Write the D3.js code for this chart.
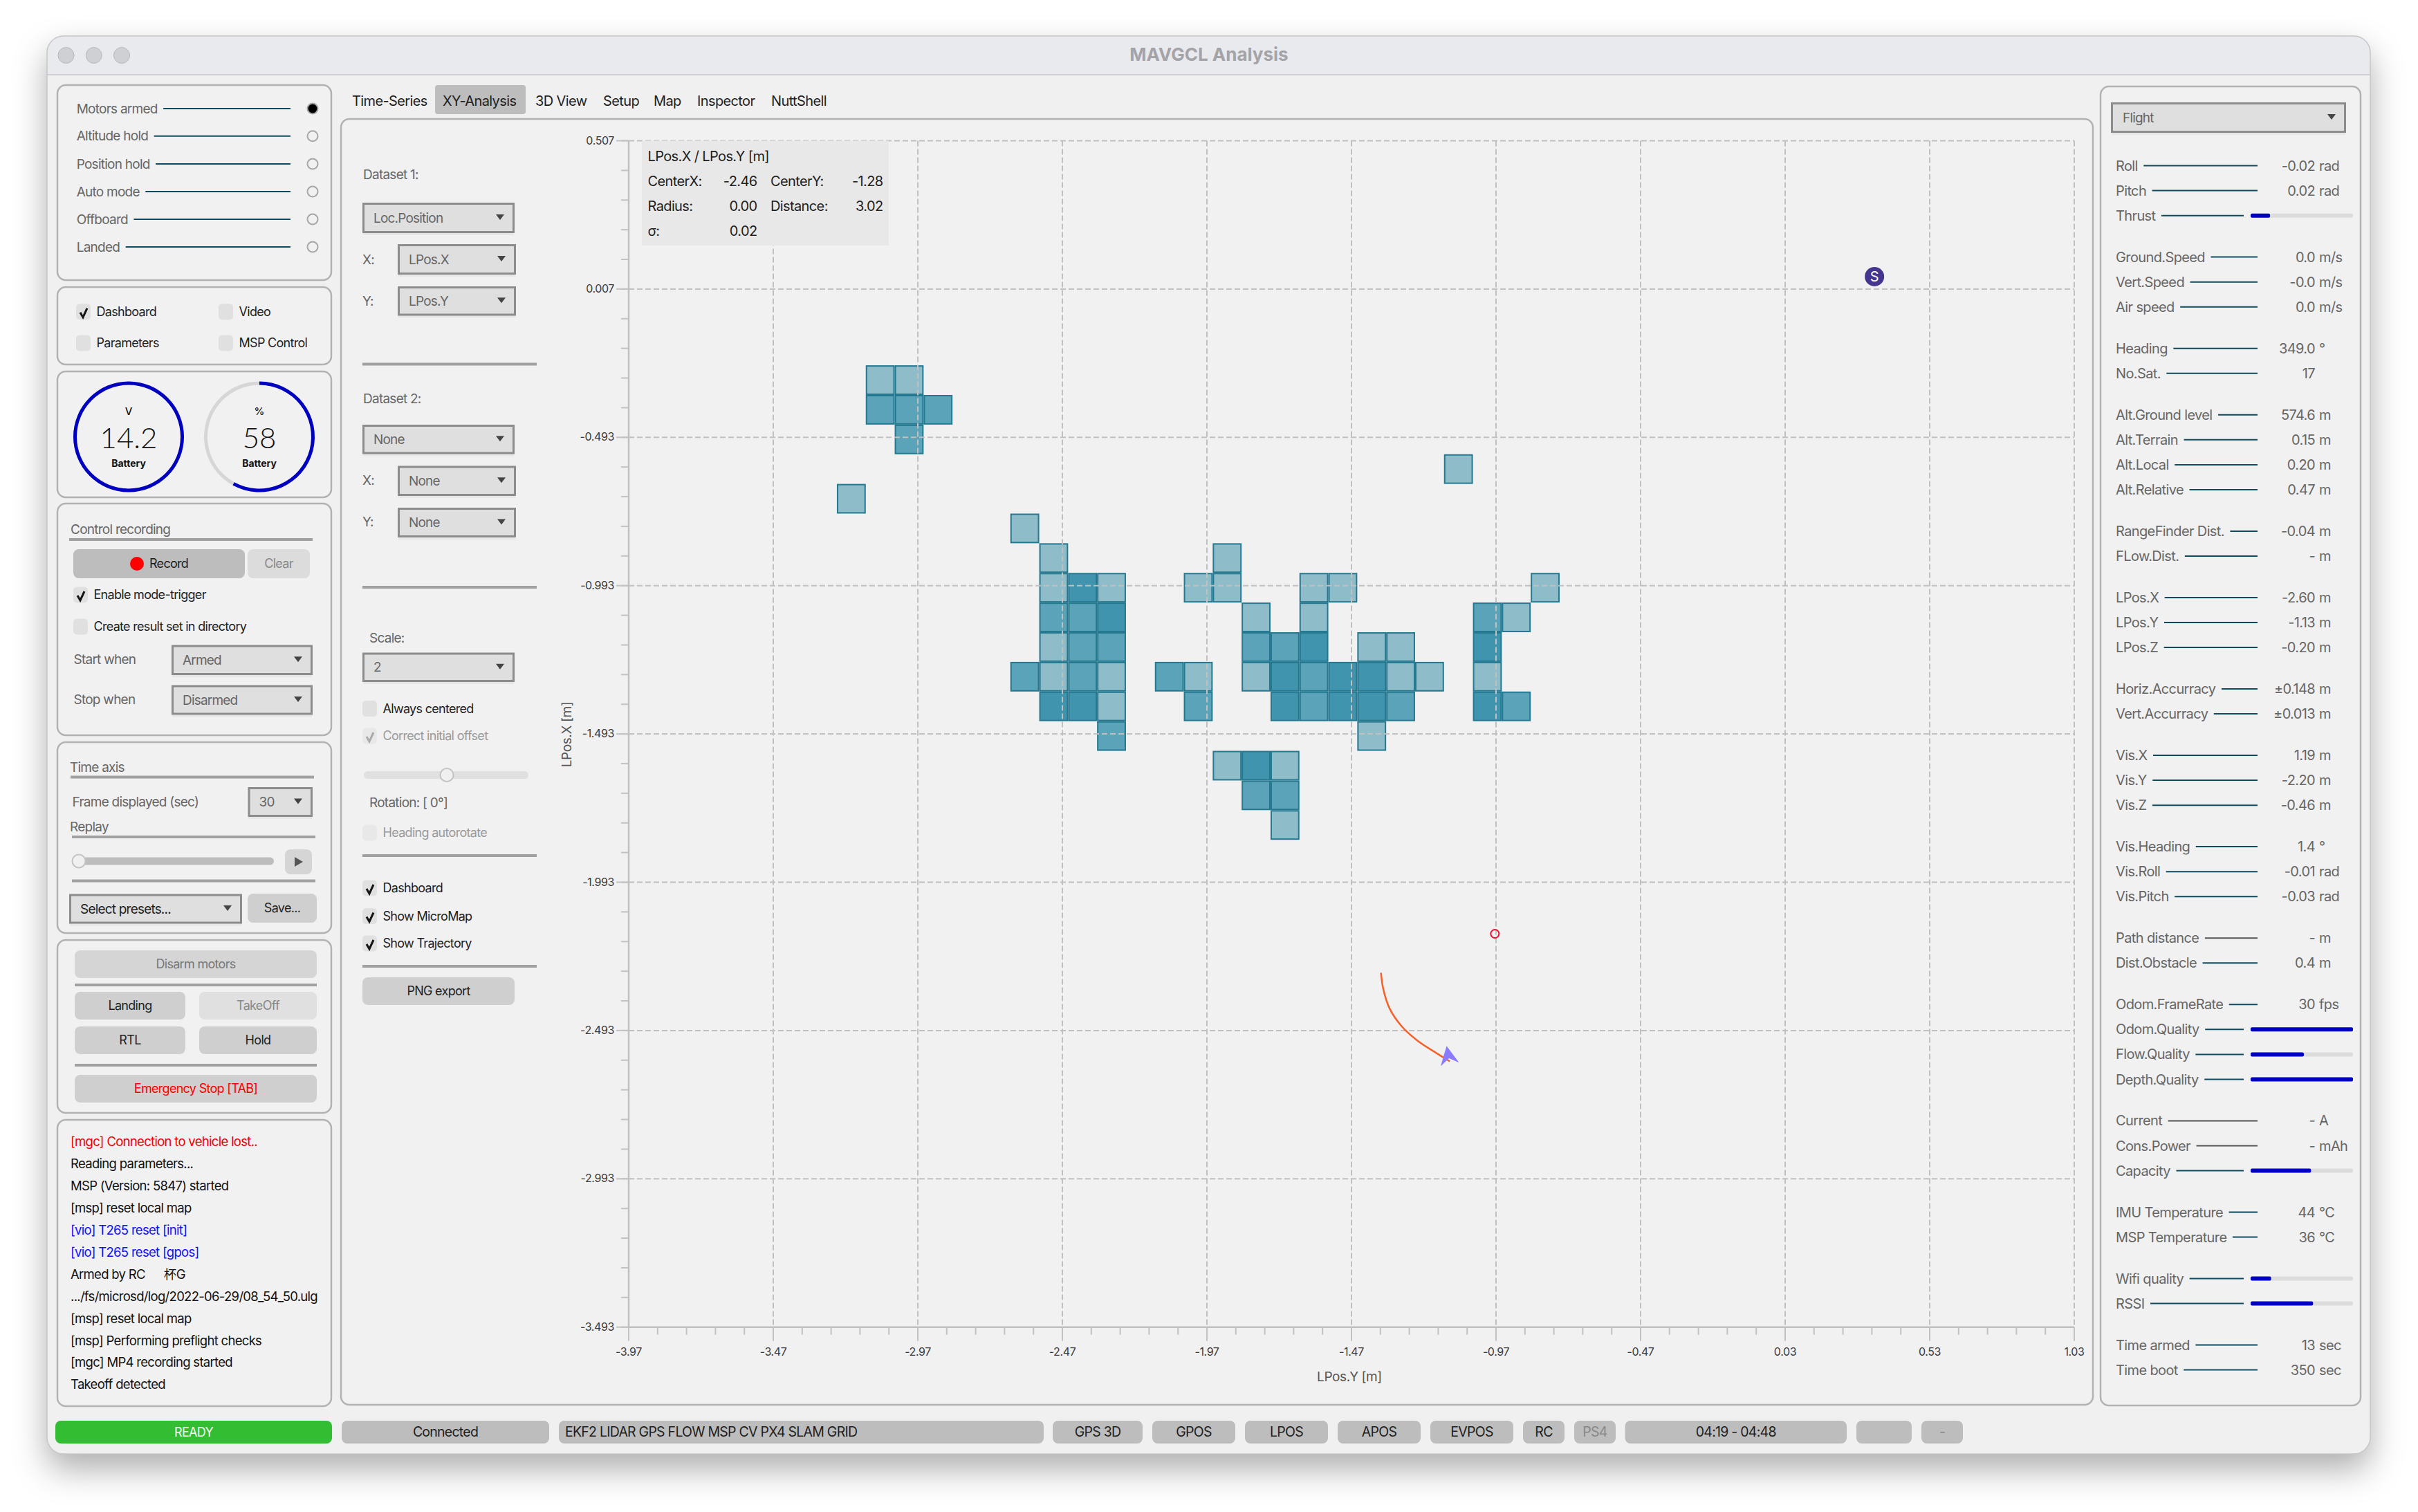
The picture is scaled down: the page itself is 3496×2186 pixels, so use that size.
<!DOCTYPE html>
<html>
<head>
<meta charset="utf-8" />
<script src="https://cdn.jsdelivr.net/npm/d3@7"></script>
<style>
  body { margin: 0; background: #fff; }
  text { font-family: Inter, "Noto Sans CJK SC", sans-serif; white-space: pre; }
</style>
</head>
<body>
<div id="master"></div>
<script>
// --- chart values
var xTicks = [-3.97, -3.47, -2.97, -2.47, -1.97, -1.47, -0.97, -0.47, 0.03, 0.53, 1.03];
var yTicks = [0.507, 0.007, -0.493, -0.993, -1.493, -1.993, -2.493, -2.993, -3.493];

// occupancy cells: LPos.Y centre, LPos.X centre, level
var cellX = [-3.1, -3.0, -3.1, -3.0, -2.9, -3.0, -3.2, -1.1,
  -2.6,
  -2.5, -1.9,
  -2.5, -2.4, -2.3, -2.0, -1.9, -1.6, -1.5, -0.8,
  -2.5, -2.4, -2.3, -1.8, -1.6, -1.0, -0.9,
  -2.5, -2.4, -2.3, -1.8, -1.7, -1.6, -1.4, -1.3, -1.0,
  -2.6, -2.5, -2.4, -2.3, -2.1, -2.0, -1.8, -1.7, -1.6, -1.5, -1.4, -1.3, -1.2, -1.0,
  -2.5, -2.4, -2.3, -2.0, -1.7, -1.6, -1.5, -1.4, -1.3, -1.0, -0.9,
  -2.3, -1.4,
  -1.9, -1.8, -1.7,
  -1.8, -1.7,
  -1.7];
var cellY = [-0.3, -0.3, -0.4, -0.4, -0.4, -0.5, -0.7, -0.6,
  -0.8,
  -0.9, -0.9,
  -1.0, -1.0, -1.0, -1.0, -1.0, -1.0, -1.0, -1.0,
  -1.1, -1.1, -1.1, -1.1, -1.1, -1.1, -1.1,
  -1.2, -1.2, -1.2, -1.2, -1.2, -1.2, -1.2, -1.2, -1.2,
  -1.3, -1.3, -1.3, -1.3, -1.3, -1.3, -1.3, -1.3, -1.3, -1.3, -1.3, -1.3, -1.3, -1.3,
  -1.4, -1.4, -1.4, -1.4, -1.4, -1.4, -1.4, -1.4, -1.4, -1.4, -1.4,
  -1.5, -1.5,
  -1.6, -1.6, -1.6,
  -1.7, -1.7,
  -1.8];
var cellLevel = [1, 1, 2, 2, 2, 2, 1, 1,
  1,
  1, 1,
  1, 3, 1, 1, 1, 1, 1, 1,
  2, 2, 3, 1, 1, 2, 1,
  1, 2, 2, 2, 2, 3, 1, 1, 3,
  2, 1, 2, 1, 2, 1, 1, 3, 2, 3, 3, 1, 1, 1,
  3, 3, 1, 2, 3, 2, 3, 3, 2, 3, 2,
  2, 1,
  1, 3, 1,
  2, 2,
  1];

// trajectory
var trackX = [-1.368, -1.360, -1.338, -1.297, -1.242, -1.173, -1.130];
var trackY = [-2.298, -2.353, -2.419, -2.478, -2.527, -2.571, -2.597];
var vehicle = [-1.13, -2.60, 349];
var target = [-0.974, -2.167];
var homeMark = [0.339, 0.049];

// info box
var infoTitle = "LPos.X / LPos.Y [m]";
var infoLeft = [["CenterX:", "-2.46"], ["Radius:", "0.00"], ["\u03c3:", "0.02"]];
var infoRight = [["CenterY:", "-1.28"], ["Distance:", "3.02"]];

// side panels
var modeLabels = ["Motors armed", "Altitude hold", "Position hold", "Auto mode", "Offboard", "Landed"];
var modeOn = [1, 0, 0, 0, 0, 0];
var tabs = ["Time-Series", "XY-Analysis", "3D View", "Setup", "Map", "Inspector", "NuttShell"];
var messages = ["[mgc] Connection to vehicle lost..", "Reading parameters...", "MSP (Version: 5847) started",
  "[msp] reset local map", "[vio] T265 reset [init]", "[vio] T265 reset [gpos]", "Armed by RC      \u676fG",
  ".../fs/microsd/log/2022-06-29/08_54_50.ulg", "[msp] reset local map", "[msp] Performing preflight checks",
  "[mgc] MP4 recording started", "Takeoff detected"];
var messageKinds = [2, 0, 0, 0, 1, 1, 0, 0, 0, 0, 0, 0];

var rowLabels = ["Roll", "Pitch", "Thrust", "Ground.Speed", "Vert.Speed", "Air speed", "Heading", "No.Sat.",
  "Alt.Ground level", "Alt.Terrain", "Alt.Local", "Alt.Relative", "RangeFinder Dist.", "FLow.Dist.",
  "LPos.X", "LPos.Y", "LPos.Z", "Horiz.Accurracy", "Vert.Accurracy", "Vis.X", "Vis.Y", "Vis.Z",
  "Vis.Heading", "Vis.Roll", "Vis.Pitch", "Path distance", "Dist.Obstacle", "Odom.FrameRate", "Odom.Quality",
  "Flow.Quality", "Depth.Quality", "Current", "Cons.Power", "Capacity", "IMU Temperature", "MSP Temperature",
  "Wifi quality", "RSSI", "Time armed", "Time boot"];
var rowValues = ["-0.02", "0.02", null, "0.0", "-0.0", "0.0", "349.0", "17",
  "574.6", "0.15", "0.20", "0.47", "-0.04", "-",
  "-2.60", "-1.13", "-0.20", "\u00b10.148", "\u00b10.013", "1.19", "-2.20", "-0.46",
  "1.4", "-0.01", "-0.03", "-", "0.4", "30", null,
  null, null, "-", "-", null, "44", "36",
  null, null, "13", "350"];
var rowUnits = ["rad", "rad", "", "m/s", "m/s", "m/s", "\u00b0", "",
  "m", "m", "m", "m", "m", "m",
  "m", "m", "m", "m", "m", "m", "m", "m",
  "\u00b0", "rad", "rad", "m", "m", "fps", "",
  "", "", "A", "mAh", "", "\u00b0C", "\u00b0C",
  "", "", "sec", "sec"];
var rowBars = {"Thrust": 0.19, "Odom.Quality": 1, "Flow.Quality": 0.52, "Depth.Quality": 1, "Capacity": 0.59, "Wifi quality": 0.2, "RSSI": 0.61};
var groupSizes = [3, 3, 2, 4, 2, 3, 2, 3, 3, 2, 4, 3, 2, 2, 2];
var mutedRows = ["Path distance", "Current", "Cons.Power"];

var statusLabels = ["Connected", "EKF2 LIDAR GPS FLOW MSP CV PX4 SLAM GRID", "GPS 3D", "GPOS", "LPOS", "APOS", "EVPOS", "RC", "PS4", "04:19 - 04:48", "", "-"];
var batteryVolts = "14.2", batteryPct = 58;

// --- page
var width = 3496, height = 2186;
var svg = d3.select("#master").append("svg")
  .attr("width", width)
  .attr("height", height)
  .style("display", "block");

var defs = svg.append("defs");
var shadow = defs.append("filter").attr("id", "winshadow")
  .attr("x", "-5%").attr("y", "-5%").attr("width", "110%").attr("height", "112%");
shadow.append("feDropShadow").attr("dx", 0).attr("dy", 22).attr("stdDeviation", 24)
  .attr("flood-color", "#000").attr("flood-opacity", 0.32);

var TXT = "#1e1e1e", MUTED = "#666", LINE = "#0f4a5c";
// the left column is set tighter than the tabs and right panel
var SIDE = {fill: MUTED, size: 19, ls: -0.75};
var SMALL = {size: 18, ls: -0.7};

function label(g, x, y, str, o) {
  o = o || {};
  return g.append("text")
    .attr("x", x).attr("y", y).attr("dy", "0.35em")
    .attr("text-anchor", o.anchor || "start")
    .attr("font-size", o.size || 20)
    .attr("font-weight", o.weight || 400)
    .attr("letter-spacing", o.ls === undefined ? -0.62 : o.ls)
    .attr("fill", o.fill || TXT)
    .text(str);
}
function box(g, x0, y0, x1, y1, fill, r, stroke, sw) {
  return g.append("rect")
    .attr("x", x0).attr("y", y0).attr("width", x1 - x0).attr("height", y1 - y0)
    .attr("rx", r || 0).attr("fill", fill)
    .attr("stroke", stroke || "none").attr("stroke-width", sw || 0);
}
function panel(g, x0, y0, x1, y1) {
  box(g, x0, y0, x1, y1, "#f1f1f1", 12, "#b2b2b2", 2.5);
}
function divider(g, x0, x1, y) {
  box(g, x0, y - 2, x1, y + 2, "#a0a0a0");
}
function arrowDown(g, cx, cy, fill) {
  g.append("path").attr("d", "M" + (cx - 6) + " " + (cy - 4) + "h12l-6 8z").attr("fill", fill || "#444");
}
function combo(g, x0, y0, x1, y1, str, arrowX, fill, textX) {
  box(g, x0 + 1, y1, x1 - 1, y1 + 3, "#e6e6e6");
  box(g, x0 + 1.5, y0 + 1.5, x1 - 1.5, y1 - 1.5, "#dfdfdf", 0, "#8c8c8c", 3);
  label(g, textX === undefined ? x0 + 16 : textX, (y0 + y1) / 2, str, {fill: fill || MUTED, size: 19, ls: -0.8});
  arrowDown(g, arrowX, (y0 + y1) / 2 - 1);
}
function button(g, x0, y0, x1, y1, str, fill, color) {
  box(g, x0, y0, x1, y1, fill, 8);
  label(g, (x0 + x1) / 2, (y0 + y1) / 2, str, {anchor: "middle", fill: color || TXT, size: SMALL.size, ls: SMALL.ls});
}
function check(g, x, y, str, on, off) {
  box(g, x, y - 11.5, x + 21, y + 11.5, off ? "#e8e8e8" : "#e0e0e0", 5);
  if (on) {
    g.append("path")
      .attr("d", "M" + (x + 6) + " " + (y + 1) + "l4 7 l6 -13")
      .attr("fill", "none").attr("stroke", off ? "#aaa" : "#151515").attr("stroke-width", 3);
  }
  label(g, x + 29.5, y, str, {fill: off ? "#9a9a9a" : TXT, size: SMALL.size, ls: SMALL.ls});
}
function slider(g, x0, x1, y, thumbX, fill) {
  box(g, x0, y - 5.5, x1, y + 5.5, fill, 5.5);
  g.append("circle").attr("cx", thumbX).attr("cy", y).attr("r", 9.5)
    .attr("fill", "#f0f0f0").attr("stroke", "#c4c4c4").attr("stroke-width", 2);
}
function leader(g, node, xEnd, y, color) {
  var box2 = node.node();
  g.append("line")
    .attr("x1", +box2.getAttribute("x") + box2.getComputedTextLength() + 8.5).attr("x2", xEnd)
    .attr("y1", y).attr("y2", y)
    .attr("stroke", color || LINE).attr("stroke-width", 2);
}

// --- window
var win = svg.append("g");
win.append("rect").attr("x", 68).attr("y", 52).attr("width", 3359).attr("height", 2050)
  .attr("rx", 24).attr("fill", "#f0f0f0").attr("filter", "url(#winshadow)");
win.append("path")
  .attr("d", "M68 108V76a24 24 0 0 1 24 -24H3403a24 24 0 0 1 24 24V108Z").attr("fill", "#e9eaee");
win.append("line").attr("x1", 68).attr("x2", 3427).attr("y1", 108).attr("y2", 108).attr("stroke", "#d0d0d2").attr("stroke-width", 2);
win.append("rect").attr("x", 68).attr("y", 52).attr("width", 3359).attr("height", 2050)
  .attr("rx", 24).attr("fill", "none").attr("stroke", "#c6c6c8").attr("stroke-width", 1.5);
[95.5, 135.7, 176].forEach(function(cx) {
  win.append("circle").attr("cx", cx).attr("cy", 80).attr("r", 11.5)
    .attr("fill", "#ced0d4").attr("stroke", "#b8b8bc").attr("stroke-width", 1);
});
label(win, 1748, 79, "MAVGCL Analysis", {anchor: "middle", size: 26, weight: 700, fill: "#a3a3a8", ls: 0});

// --- left column
var left = svg.append("g");
panel(left, 83, 123, 479, 405);
[157, 196.7, 237, 277, 317, 357].forEach(function(y, i) {
  var t = label(left, 110.7, y, modeLabels[i], SIDE);
  leader(left, t, 420, y);
  left.append("circle").attr("cx", 452).attr("cy", y).attr("r", 7.5)
    .attr("fill", modeOn[i] ? "#000" : "#f1f1f1")
    .attr("stroke", "#a6a6a6").attr("stroke-width", 2);
});

panel(left, 83, 415, 479, 527);
check(left, 110, 450.7, "Dashboard", true);
check(left, 316, 450.7, "Video", false);
check(left, 110, 496, "Parameters", false);
check(left, 316, 496, "MSP Control", false);

panel(left, 83, 537, 479, 719);
function gauge(cx, cy, frac, unit, value) {
  var arc = d3.arc().innerRadius(75).outerRadius(80).startAngle(0);
  left.append("path").attr("transform", "translate(" + cx + "," + cy + ")")
    .attr("d", arc({endAngle: 2 * Math.PI})).attr("fill", "#d6d6d6");
  left.append("path").attr("transform", "translate(" + cx + "," + cy + ")")
    .attr("d", arc({endAngle: 2 * Math.PI * frac})).attr("fill", "#0000c0");
  label(left, cx, cy - 37, unit, {anchor: "middle", size: 15, ls: 0, fill: "#111", weight: 500});
  left.append("text").attr("x", cx).attr("y", cy + 2).attr("dy", "0.35em")
    .attr("text-anchor", "middle").attr("font-size", 42).attr("font-weight", 300).attr("fill", "#111")
    .style("font-family", "Lato").text(value);
  label(left, cx, cy + 39, "Battery", {anchor: "middle", size: 14, ls: 0, weight: 700, fill: "#111"});
}
gauge(186, 631.5, 1, "V", batteryVolts);
gauge(375, 631.5, batteryPct / 100, "%", batteryPct);

panel(left, 83, 728, 479, 1063);
label(left, 102, 765, "Control recording", SIDE);
divider(left, 100, 452, 780);
box(left, 106, 794, 354, 836, "#bdbdbd", 8);
left.append("circle").attr("cx", 198).attr("cy", 815).attr("r", 10).attr("fill", "#f00");
label(left, 216, 815, "Record", SMALL);
button(left, 358, 794, 448, 836, "Clear", "#dcdcdc", "#888");
check(left, 106, 860, "Enable mode-trigger", true);
check(left, 106, 906, "Create result set in directory", false);
label(left, 106.5, 953, "Start when", SIDE);
combo(left, 248, 932.5, 452, 976, "Armed", 431);
label(left, 106.5, 1011.5, "Stop when", SIDE);
combo(left, 248, 990.5, 452, 1033.5, "Disarmed", 431);

panel(left, 83, 1073, 479, 1349);
label(left, 101, 1109, "Time axis", SIDE);
divider(left, 102, 454, 1123.5);
label(left, 104.5, 1159, "Frame displayed (sec)", SIDE);
combo(left, 358.5, 1138, 452, 1181, "30", 431);
label(left, 101, 1195, "Replay", SIDE);
divider(left, 104, 456, 1210);
slider(left, 107, 396, 1245, 114, "#bdbdbd");
box(left, 412, 1228, 451, 1264, "#d5d5d5", 8);
left.append("path").attr("d", "M426 1239l12 7l-12 7z").attr("fill", "#555");
divider(left, 104, 456, 1273.5);
combo(left, 100, 1292.5, 350, 1335.5, "Select presets...", 329, TXT);
button(left, 358, 1292, 458, 1334, "Save...", "#cfcfcf");

panel(left, 83, 1359, 479, 1609);
button(left, 108, 1374, 458, 1414, "Disarm motors", "#d5d5d5", "#777");
divider(left, 108, 458, 1424);
button(left, 108, 1434, 268, 1474, "Landing", "#cfcfcf");
button(left, 288, 1434, 458, 1474, "TakeOff", "#e0e0e0", "#888");
button(left, 108, 1484, 268, 1524, "RTL", "#cfcfcf");
button(left, 288, 1484, 458, 1524, "Hold", "#cfcfcf");
divider(left, 108, 458, 1540);
button(left, 108, 1554, 458, 1594, "Emergency Stop [TAB]", "#cfcfcf", "#f00");

panel(left, 83, 1619, 479, 2033);
messages.forEach(function(m, i) {
  label(left, 102, 1651 + i * 31.9, m, {fill: ["#111", "#1010ff", "#f00000"][messageKinds[i]], size: 18.5, ls: -0.7});
});

// --- tabs
var tabX = [509, 640, 774, 872, 945, 1008, 1115];
box(svg, 629, 123, 760, 165, "#bdbdbd", 4);
tabs.forEach(function(t, i) {
  label(svg, tabX[i], 146, t);
});

// --- main panel and its controls
var main = svg.append("g");
panel(main, 493, 172, 3026, 2031);
label(main, 525, 252.5, "Dataset 1:", SIDE);
combo(main, 524, 293, 744, 337, "Loc.Position", 723);
label(main, 524, 375, "X:", SIDE);
combo(main, 575, 353, 746, 397, "LPos.X", 725);
label(main, 524, 435, "Y:", SIDE);
combo(main, 575, 414, 746, 456.5, "LPos.Y", 725);
divider(main, 524, 776, 526.5);
label(main, 525, 576, "Dataset 2:", SIDE);
combo(main, 524, 614, 744, 656.5, "None", 723);
label(main, 524, 694, "X:", SIDE);
combo(main, 575, 673.5, 746, 717, "None", 725);
label(main, 524, 754, "Y:", SIDE);
combo(main, 575, 734, 746, 777, "None", 725);
divider(main, 524, 776, 849);
label(main, 534, 922, "Scale:", SIDE);
combo(main, 524, 943.5, 744, 986, "2", 723);
check(main, 524, 1024.5, "Always centered", false);
check(main, 524, 1064, "Correct initial offset", true, true);
slider(main, 526, 764, 1120.5, 646, "#e0e0e0");
label(main, 534, 1160, "Rotation: [ 0\u00b0]", SIDE);
check(main, 524, 1204, "Heading autorotate", false, true);
divider(main, 524, 776, 1237);
check(main, 524, 1284, "Dashboard", true);
check(main, 524, 1324.5, "Show MicroMap", true);
check(main, 524, 1364, "Show Trajectory", true);
divider(main, 524, 776, 1397);
button(main, 524, 1413, 744, 1453, "PNG export", "#cfcfcf");

// --- chart
var x = d3.scaleLinear().domain([-3.97, 1.03]).range([909, 2999]);
var y = d3.scaleLinear().domain([-3.493, 0.507]).range([1918.7, 203.5]);
var chart = svg.append("g");

var cells = cellX.map(function(cx, i) { return {x: cx, y: cellY[i], level: cellLevel[i]}; });
var cellFill = d3.scaleOrdinal().domain([1, 2, 3]).range(["#8ebcc9", "#5ba3b8", "#4094ad"]);
var half = 0.05;
chart.selectAll(".cell").data(cells).enter().append("rect")
  .attr("class", "cell")
  .attr("x", function(d) { return x(d.x - half) + 1; })
  .attr("y", function(d) { return y(d.y + half) + 1; })
  .attr("width", function(d) { return x(d.x + half) - x(d.x - half) - 2; })
  .attr("height", function(d) { return y(d.y - half) - y(d.y + half) - 2; })
  .attr("fill", function(d) { return cellFill(d.level); })
  .attr("stroke", "#24788f").attr("stroke-width", 2);

// grid sits above the cells, as in the application
var grid = chart.append("g");
grid.selectAll(".gy").data(yTicks.slice(0, -1)).enter().append("line").attr("class", "gy")
  .attr("x1", x.range()[0]).attr("x2", x.range()[1])
  .attr("y1", function(d) { return y(d); }).attr("y2", function(d) { return y(d); });
grid.selectAll(".gx").data(xTicks.slice(1)).enter().append("line").attr("class", "gx")
  .attr("x1", function(d) { return x(d); }).attr("x2", function(d) { return x(d); })
  .attr("y1", y.range()[1]).attr("y2", y.range()[0]);
grid.selectAll("line").attr("stroke", "#c0c0c0").attr("stroke-width", 2).attr("stroke-dasharray", "8 4");

// info box covers the grid
var info = chart.append("g");
box(info, 928, 203.5, 1285, 355, "#e8e8e8");
label(info, 936.5, 226, infoTitle, {size: 20});
[261.5, 297.7, 334].forEach(function(ry, i) {
  label(info, 936.5, ry, infoLeft[i][0]);
  label(info, 1094.5, ry, infoLeft[i][1], {anchor: "end"});
  if (infoRight[i]) {
    label(info, 1114, ry, infoRight[i][0]);
    label(info, 1276.5, ry, infoRight[i][1], {anchor: "end"});
  }
});

function styleAxis(g, size) {
  g.select(".domain").remove();
  g.selectAll("line").attr("stroke", "#c2c2c2").attr("stroke-width", 2);
  g.selectAll("text").attr("font-size", size).attr("fill", "#3a3a3a")
    .style("font-family", "Inter").attr("letter-spacing", -0.4);
}
var xMinor = d3.range(51).map(function(i) { return -3.97 + i * 0.1; });
var yMinor = d3.range(41).map(function(i) { return -3.493 + i * 0.1; });

chart.append("g").attr("transform", "translate(-0.5," + y.range()[0] + ")")
  .call(d3.axisBottom(x).tickValues(xMinor).tickSize(11).tickFormat(""))
  .call(styleAxis, 16);
chart.append("g").attr("transform", "translate(" + x.range()[0] + ",-0.5)")
  .call(d3.axisLeft(y).tickValues(yMinor).tickSize(11).tickFormat(""))
  .call(styleAxis, 16);
chart.append("g").attr("transform", "translate(-0.5," + y.range()[0] + ")")
  .call(d3.axisBottom(x).tickValues(xTicks).tickSize(20).tickPadding(10).tickFormat(function(d) { return d.toFixed(2); }))
  .call(styleAxis, 16);
chart.append("g").attr("transform", "translate(" + x.range()[0] + ",-0.5)")
  .call(d3.axisLeft(y).tickValues(yTicks).tickSize(18).tickPadding(3).tickFormat(function(d) { return d.toFixed(3); }))
  .call(styleAxis, 16);
chart.append("line").attr("x1", x.range()[0]).attr("x2", x.range()[1])
  .attr("y1", y.range()[0]).attr("y2", y.range()[0]).attr("stroke", "#c0c0c0").attr("stroke-width", 2.5);
chart.append("line").attr("x1", x.range()[0]).attr("x2", x.range()[0])
  .attr("y1", y.range()[1]).attr("y2", y.range()[0]).attr("stroke", "#c0c0c0").attr("stroke-width", 2.5);

label(chart, 1951, 1990, "LPos.Y [m]", {anchor: "middle", size: 19, fill: "#555", ls: -0.4});
chart.append("text").attr("transform", "translate(819,1062) rotate(-90)").attr("dy", "0.35em")
  .attr("text-anchor", "middle").attr("font-size", 19).attr("fill", "#555").attr("letter-spacing", -0.4)
  .text("LPos.X [m]");

var trackLine = d3.line()
  .x(function(d, i) { return x(trackX[i]); })
  .y(function(d, i) { return y(trackY[i]); })
  .curve(d3.curveCatmullRom);
chart.append("path").attr("d", trackLine(trackX))
  .attr("fill", "none").attr("stroke", "#f4622a").attr("stroke-width", 2.5);

chart.append("path").attr("d", "M0 -24L13 3L0 -6L-14 3Z").attr("fill", "#8a7bff")
  .attr("transform", "translate(" + x(vehicle[0]) + "," + y(vehicle[1]) + ") rotate(" + vehicle[2] + ")");
chart.append("circle").attr("cx", x(target[0])).attr("cy", y(target[1])).attr("r", 6)
  .attr("fill", "none").attr("stroke", "#e8102a").attr("stroke-width", 2);
chart.append("circle").attr("cx", x(homeMark[0])).attr("cy", y(homeMark[1])).attr("r", 14).attr("fill", "#44358f");
label(chart, x(homeMark[0]), y(homeMark[1]), "S", {anchor: "middle", size: 20, fill: "#fff", ls: 0});

// --- right panel
var right = svg.append("g");
panel(right, 3037, 125, 3413, 2032);
combo(right, 3052, 148, 3392, 192, "Flight", 3371, MUTED, 3069);
var rowY = 239.5, rowIdx = 0;
groupSizes.forEach(function(n) {
  d3.range(n).forEach(function(j) {
    var name = rowLabels[rowIdx], isBar = rowBars[name] !== undefined;
    var t = label(right, 3059, rowY, name, {fill: MUTED});
    leader(right, t, isBar ? 3244 : 3264, rowY, mutedRows.indexOf(name) >= 0 ? "#555" : LINE);
    if (isBar) {
      box(right, 3254, rowY - 3, 3402, rowY + 3, "#dcdcdc", 2);
      box(right, 3254, rowY - 3, 3254 + 148 * rowBars[name], rowY + 3, "#0000c0", 2);
    } else {
      label(right, 3347, rowY, rowValues[rowIdx], {anchor: "end", fill: MUTED});
      label(right, 3353, rowY, rowUnits[rowIdx], {fill: MUTED});
    }
    rowIdx++;
    rowY += j < n - 1 ? 36.1 : 59.9;
  });
});

// --- status bar
var bar = svg.append("g");
button(bar, 80, 2054, 480, 2087, "READY", "#33bd33", "#f4fff4");
var statusSpans = [[494, 794], [808, 1509], [1522, 1652], [1666, 1786], [1800, 1920], [1934, 2054], [2068, 2188], [2202, 2262], [2276, 2336], [2349.5, 2670], [2684, 2764], [2778, 2838]];
statusLabels.forEach(function(s, i) {
  var sp = statusSpans[i], dim = s === "PS4" || s === "-";
  box(bar, sp[0], 2054, sp[1], 2087, "#bdbdbd", 8);
  if (i === 1) label(bar, sp[0] + 9, 2070.5, s, {size: 19.5, ls: -0.75});
  else label(bar, (sp[0] + sp[1]) / 2, 2070.5, s, {anchor: "middle", fill: dim ? "#888" : TXT, size: 19.5, ls: -0.75});
});
</script>
</body>
</html>
